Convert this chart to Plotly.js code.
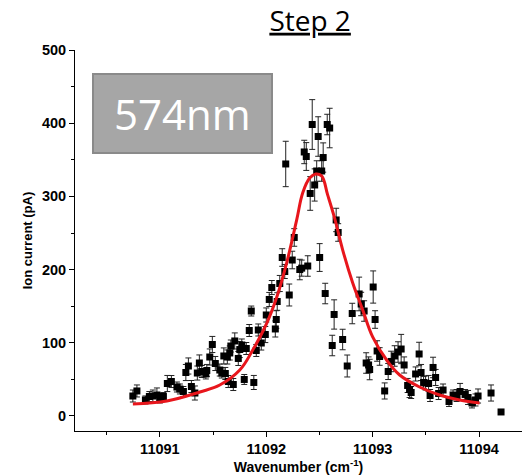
<!DOCTYPE html>
<html>
<head>
<meta charset="utf-8">
<script src="https://cdn.plot.ly/plotly-3.0.1.min.js"></script>
<style>html,body{margin:0;padding:0;background:#fff;}#chart{width:522px;height:476px;}</style>
</head>
<body>
<div id="chart"></div>
<script>
// measured data points: wavenumber (cm-1), ion current (pA), error (pA)
var wavenumber = [11090.746,11090.784,11090.864,11090.901,11090.934,11090.972,11091.000,11091.033,11091.070,11091.108,
11091.160,11091.188,11091.221,11091.244,11091.268,11091.296,11091.329,11091.352,11091.371,11091.394,
11091.432,11091.441,11091.469,11091.493,11091.521,11091.563,11091.582,11091.601,11091.615,11091.634,
11091.643,11091.657,11091.667,11091.690,11091.704,11091.737,11091.751,11091.770,11091.793,11091.812,
11091.840,11091.859,11091.883,11091.906,11091.925,11091.953,11091.991,11092.000,11092.028,11092.052,
11092.094,11092.103,11092.085,11092.127,11092.150,11092.174,11092.183,11092.216,11092.244,11092.263,
11092.315,11092.333,11092.357,11092.376,11092.390,11092.413,11092.432,11092.455,11092.474,11092.488,
11092.502,11092.521,11092.535,11092.573,11092.596,11092.554,11092.620,11092.638,11092.657,11092.676,
11092.718,11092.761,11092.808,11092.873,11092.892,11092.920,11092.939,11092.962,11092.972,11093.005,
11093.023,11093.042,11093.066,11093.113,11093.146,11093.174,11093.207,11093.239,11093.268,11093.296,
11093.329,11093.347,11093.362,11093.404,11093.437,11093.455,11093.479,11093.498,11093.526,11093.540,
11093.568,11093.592,11093.620,11093.662,11093.718,11093.756,11093.789,11093.822,11093.869,11093.897,
11093.934,11093.967,11093.991,11094.113,11094.207];
var ionCurrent = [27.3,34.2,21.9,26.6,27.3,28.7,24.6,26.6,44.4,47.1,
39.6,36.9,33.5,59.4,68.3,40.3,31.4,58.7,72.4,60.8,
57.4,62.2,80.6,97.7,71.7,62.8,58.7,82.0,58.1,80.6,
47.1,86.1,95.6,43.0,102.5,78.6,90.8,97.0,49.9,92.2,
116.8,143.4,45.8,89.5,117.5,99.7,111.3,138.0,159.2,175.5,
131.8,156.4,118.9,181.0,216.5,197.4,344.3,165.3,213.1,243.9,
200.1,202.0,360.7,354.5,204.9,304.0,398.2,315.6,334.7,381.8,
216.5,334.7,353.1,398.2,393.4,167.3,96.3,138.7,267.8,250.7,
104.5,68.3,140.0,166.7,153.0,143.4,72.4,69.7,63.5,176.2,
131.8,88.8,81.3,34.2,60.8,74.5,82.0,87.4,91.5,69.7,
41.7,36.2,32.1,57.4,84.7,59.4,45.8,45.1,44.4,28.0,
66.3,52.6,30.7,35.5,19.8,28.7,28.0,33.5,29.4,25.3,
17.8,21.9,27.3,31.4,5.5];
var ionError = [8.2,8.2,5.5,6.8,8.2,9.6,6.8,5.5,11,8.2,
6.8,6.8,6.8,11,11,8.2,9.6,9.6,11,8.2,
6.8,8.2,11,11,9.6,8.2,6.8,11,8.2,9.6,
8.2,9.6,8.2,8.2,11,9.6,11,8.2,6.8,8.2,
8.2,6.8,9.6,8.2,8.2,9.6,11,9.6,9.6,9.6,
12,12,11,11,12,9.6,31,15,12,12,
14,11,16,19,14,23,34,22,14,27,
19,14,20,14,27,14,14,20,16,12,
14,15,14,23,16,14,14,11,14,22,
12,14,12,11,11,14,14,14,20,11,
9.6,11,8.2,9.6,16,11,8.2,9.6,11,8.2,
14,11,8.2,8.2,6.8,6.8,8.2,11,6.8,9.6,
6.8,8.2,9.6,11,0];
// fitted curve
var fitX = [11090.746,11091.066,11091.376,11091.563,11091.751,11091.873,11092.005,11092.099,11092.193,11092.286,
11092.343,11092.408,11092.465,11092.520,11092.577,11092.643,11092.718,11092.812,11092.906,11093.000,
11093.131,11093.254,11093.441,11093.629,11093.817,11094.005];
var fitY = [16.4,20.5,32.8,42.3,62.8,90.2,127,162.6,210,268,
305,325,330.6,328,302,270,227,182,145,108,
76.5,56,39.6,28.7,21.9,17.8];
var xTitle = 'Wavenumber (cm<sup>-1</sup>)';
var yTitle = 'Ion current (pA)';
var chartTitle = 'Step 2';
var boxLabel = '574nm';

var tickFont = {family: 'Arial, "Liberation Sans", sans-serif', size: 14.5, color: '#000', weight: 'bold'};

var traces = [
  {
    x: wavenumber, y: ionCurrent, type: 'scatter', mode: 'markers',
    marker: {symbol: 'square', size: 7, color: '#000'},
    error_y: {type: 'data', array: ionError, visible: true, color: '#222', thickness: 1, width: 3},
    showlegend: false, hoverinfo: 'skip'
  },
  {
    x: fitX, y: fitY, type: 'scatter', mode: 'lines',
    line: {color: '#e8161c', width: 3, shape: 'spline', smoothing: 1.1},
    showlegend: false, hoverinfo: 'skip'
  }
];

var layout = {
  width: 522, height: 476,
  margin: {l: 75, r: 0, t: 50, b: 45, pad: 0},
  paper_bgcolor: '#fff', plot_bgcolor: '#fff',
  showlegend: false,
  title: {
    text: chartTitle,
    font: {family: '"Open Sans", sans-serif', size: 28, color: '#000', lineposition: 'under'},
    x: 0.526, xref: 'paper', xanchor: 'center',
    y: 0.956, yref: 'container', yanchor: 'middle'
  },
  xaxis: {
    range: [11090.202, 11094.404],
    tick0: 11091, dtick: 1,
    ticks: 'outside', ticklen: 5, tickwidth: 1, tickcolor: '#000',
    minor: {dtick: 0.5, tick0: 11090.5, ticks: 'outside', ticklen: 3, tickcolor: '#000', showgrid: false},
    showline: true, linecolor: '#000', linewidth: 1,
    showgrid: false, zeroline: false,
    tickfont: tickFont, tickformat: 'd', separatethousands: false,
    title: {text: xTitle, font: {family: 'Arial, "Liberation Sans", sans-serif', size: 14, color: '#000', weight: 'bold'}, standoff: 2}
  },
  yaxis: {
    range: [-20.5, 500],
    tick0: 0, dtick: 100,
    ticks: 'outside', ticklen: 5, tickwidth: 1, tickcolor: '#000',
    minor: {dtick: 50, ticks: 'outside', ticklen: 3, tickcolor: '#000', showgrid: false},
    showline: true, linecolor: '#000', linewidth: 1,
    showgrid: false, zeroline: false,
    tickfont: tickFont,
    title: {text: yTitle, font: {family: 'Arial, "Liberation Sans", sans-serif', size: 13, color: '#000', weight: 'bold'}, standoff: 6}
  },
  shapes: [
    {type: 'rect', xref: 'paper', yref: 'paper', x0: 0.0403, x1: 0.4407, y0: 0.7297, y1: 0.937,
     fillcolor: '#a6a6a6', line: {color: '#8a8a8a', width: 2}, layer: 'above'}
  ],
  annotations: [
    {text: boxLabel, xref: 'paper', yref: 'paper', x: 0.2405, y: 0.834, xanchor: 'center', yanchor: 'middle',
     showarrow: false, font: {family: '"Open Sans", sans-serif', size: 42, color: '#fff'}}
  ]
};

Plotly.newPlot('chart', traces, layout, {displayModeBar: false, staticPlot: true});
</script>
</body>
</html>
